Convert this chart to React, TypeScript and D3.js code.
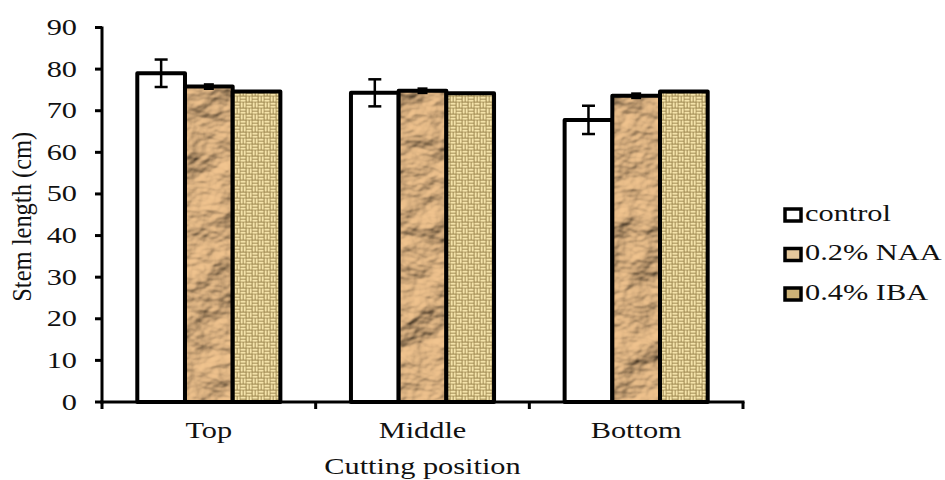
import React from "react";
import * as d3 from "d3";

// Cutting positions along the x axis
const categories = ["Top", "Middle", "Bottom"];
// Treatments
const seriesNames = ["control", "0.2% NAA", "0.4% IBA"];
// Mean stem length (cm) per cutting position
const controlValues = [79.0, 74.3, 67.8];
const naaValues = [75.8, 74.8, 73.6];
const ibaValues = [74.6, 74.2, 74.6];
// Standard errors
const controlErrors = [3.3, 3.25, 3.4];
const naaErrors = [0.4, 0.4, 0.4];
const ibaErrors = [0, 0, 0];
// Y axis ticks
const yTicks = [0, 10, 20, 30, 40, 50, 60, 70, 80, 90];

const W = 945;
const H = 480;
const FONT = "'Liberation Serif', 'Times New Roman', serif";
const FS = 23;
const SX = 1.32; // wide-set type

const seriesValues = [controlValues, naaValues, ibaValues];
const seriesErrors = [controlErrors, naaErrors, ibaErrors];
const legendFills = ["#ffffff", "#e4c79b", "#cdb277"];

function Label({ x, y, anchor, children }: { x: number; y: number; anchor: string; children: React.ReactNode }) {
  return (
    <text
      transform={`translate(${x},${y}) scale(${SX},1)`}
      textAnchor={anchor}
      fontSize={FS}
      fill="#111"
    >
      {children}
    </text>
  );
}

export default function App() {
  const y = d3.scaleLinear().domain([0, 90]).range([402, 27.5]);
  const x0 = d3.scaleBand<string>().domain(categories).range([102, 743]).padding(0);
  const x1 = d3
    .scaleBand<string>()
    .domain(seriesNames)
    .range([0, x0.bandwidth()])
    .paddingInner(0)
    .paddingOuter(0.74);

  const bars: React.ReactNode[] = [];
  const errs: React.ReactNode[] = [];
  categories.forEach((c, ci) => {
    seriesNames.forEach((s, si) => {
      const v = seriesValues[si][ci];
      const e = seriesErrors[si][ci];
      const bx = (x0(c) as number) + (x1(s) as number);
      const bw = x1.bandwidth();
      const top = y(v);
      const h = y(0) - top;
      const outline = (
        <rect x={bx} y={top} width={bw} height={h} fill="none" stroke="#000" strokeWidth={4} strokeLinejoin="round" />
      );
      if (si === 0) {
        bars.push(
          <g key={`b${ci}${si}`}>
            <rect x={bx} y={top} width={bw} height={h} fill="#fff" />
            {outline}
          </g>
        );
      } else if (si === 1) {
        bars.push(
          <g key={`b${ci}${si}`}>
            <rect x={bx} y={top} width={bw} height={h} fill="#c9a478" />
            <rect x={bx} y={top} width={bw} height={h} filter="url(#crumple)" />
            {outline}
          </g>
        );
      } else {
        bars.push(
          <g key={`b${ci}${si}`}>
            <rect x={bx} y={top} width={bw} height={h} fill="url(#weave)" />
            {outline}
          </g>
        );
      }
      if (e > 0) {
        const cx = bx + bw / 2;
        const cap = si === 0 ? 6.5 : 5;
        errs.push(
          <g key={`e${ci}${si}`} stroke="#000" strokeWidth={si === 0 ? 2.5 : 3.5}>
            <line x1={cx} x2={cx} y1={y(v + e)} y2={y(v - e)} />
            <line x1={cx - cap} x2={cx + cap} y1={y(v + e)} y2={y(v + e)} />
            <line x1={cx - cap} x2={cx + cap} y1={y(v - e)} y2={y(v - e)} />
          </g>
        );
      }
    });
  });

  const catBounds = [...categories.map((c) => x0(c) as number), 743];

  // basket-weave strands: horizontal pairs in two quadrants, vertical pairs in the others
  const strands: React.ReactNode[] = [];
  [[0, 0, "h"], [6, 0, "v"], [0, 6, "v"], [6, 6, "h"]].forEach(([qx, qy, dir], qi) => {
    [0.6, 3.6].forEach((o, k) => {
      strands.push(
        dir === "h" ? (
          <rect key={`${qi}${k}`} x={(qx as number) + 0.4} y={(qy as number) + o} width={5.2} height={2.1} />
        ) : (
          <rect key={`${qi}${k}`} x={(qx as number) + o} y={(qy as number) + 0.4} width={2.1} height={5.2} />
        )
      );
    });
  });

  return (
    <svg
      width={W}
      height={H}
      style={{ position: "absolute", left: 0, top: 0, background: "#fff" }}
      fontFamily={FONT}
    >
      <defs>
        <filter id="crumple" x="0" y="0" width="100%" height="100%" filterUnits="objectBoundingBox">
          <feTurbulence type="fractalNoise" baseFrequency="0.022 0.03" numOctaves="4" seed="11" result="noise" />
          <feDiffuseLighting in="noise" lightingColor="#ecc699" surfaceScale="9" diffuseConstant="1.05" result="lit">
            <feDistantLight azimuth="235" elevation="48" />
          </feDiffuseLighting>
          <feColorMatrix
            in="lit"
            type="matrix"
            values="1 0 0 0 0  0 0.93 0 0 0  0 0 0.82 0 0  0 0 0 1 0"
            result="warm"
          />
          <feComposite in="warm" in2="SourceGraphic" operator="in" />
        </filter>
        <filter id="soft">
          <feGaussianBlur stdDeviation="0.45" />
        </filter>
        <pattern id="weave" width="12" height="12" patternUnits="userSpaceOnUse">
          <rect width="12" height="12" fill="#9a844c" />
          <g filter="url(#soft)" fill="#f4e3aa">
            {strands}
          </g>
        </pattern>
      </defs>

      {bars}
      {errs}

      {/* Y axis */}
      <g>
        <line x1={102} x2={102} y1={y(90) - 1} y2={y(0) + 1.5} stroke="#000" strokeWidth={3} />
        {yTicks.map((t) => (
          <g key={t}>
            <line x1={95} x2={102} y1={y(t)} y2={y(t)} stroke="#000" strokeWidth={3} />
            <Label x={77} y={y(t) + 7.5} anchor="end">
              {t}
            </Label>
          </g>
        ))}
        <text
          transform={`translate(31, ${y(45) + 2}) scale(1.15,1) rotate(-90)`}
          textAnchor="middle"
          fontSize={24.5}
          fill="#111"
        >
          Stem length (cm)
        </text>
      </g>

      {/* X axis */}
      <g>
        <line x1={100.5} x2={744.5} y1={y(0)} y2={y(0)} stroke="#000" strokeWidth={3} />
        {catBounds.map((bx, i) => (
          <line key={i} x1={bx} x2={bx} y1={y(0)} y2={y(0) + 7} stroke="#000" strokeWidth={3} />
        ))}
        {categories.map((c) => (
          <Label key={c} x={(x0(c) as number) + x0.bandwidth() / 2} y={438} anchor="middle">
            {c}
          </Label>
        ))}
        <Label x={(102 + 743) / 2} y={474} anchor="middle">
          Cutting position
        </Label>
      </g>

      {/* Legend */}
      <g>
        {seriesNames.map((s, i) => {
          const cy = 215 + i * 39.5;
          return (
            <g key={s}>
              <rect x={785} y={cy - 6} width={16} height={12} fill={legendFills[i]} stroke="#000" strokeWidth={3.5} />
              <Label x={805} y={cy + 5.5} anchor="start">
                {s}
              </Label>
            </g>
          );
        })}
      </g>
    </svg>
  );
}
